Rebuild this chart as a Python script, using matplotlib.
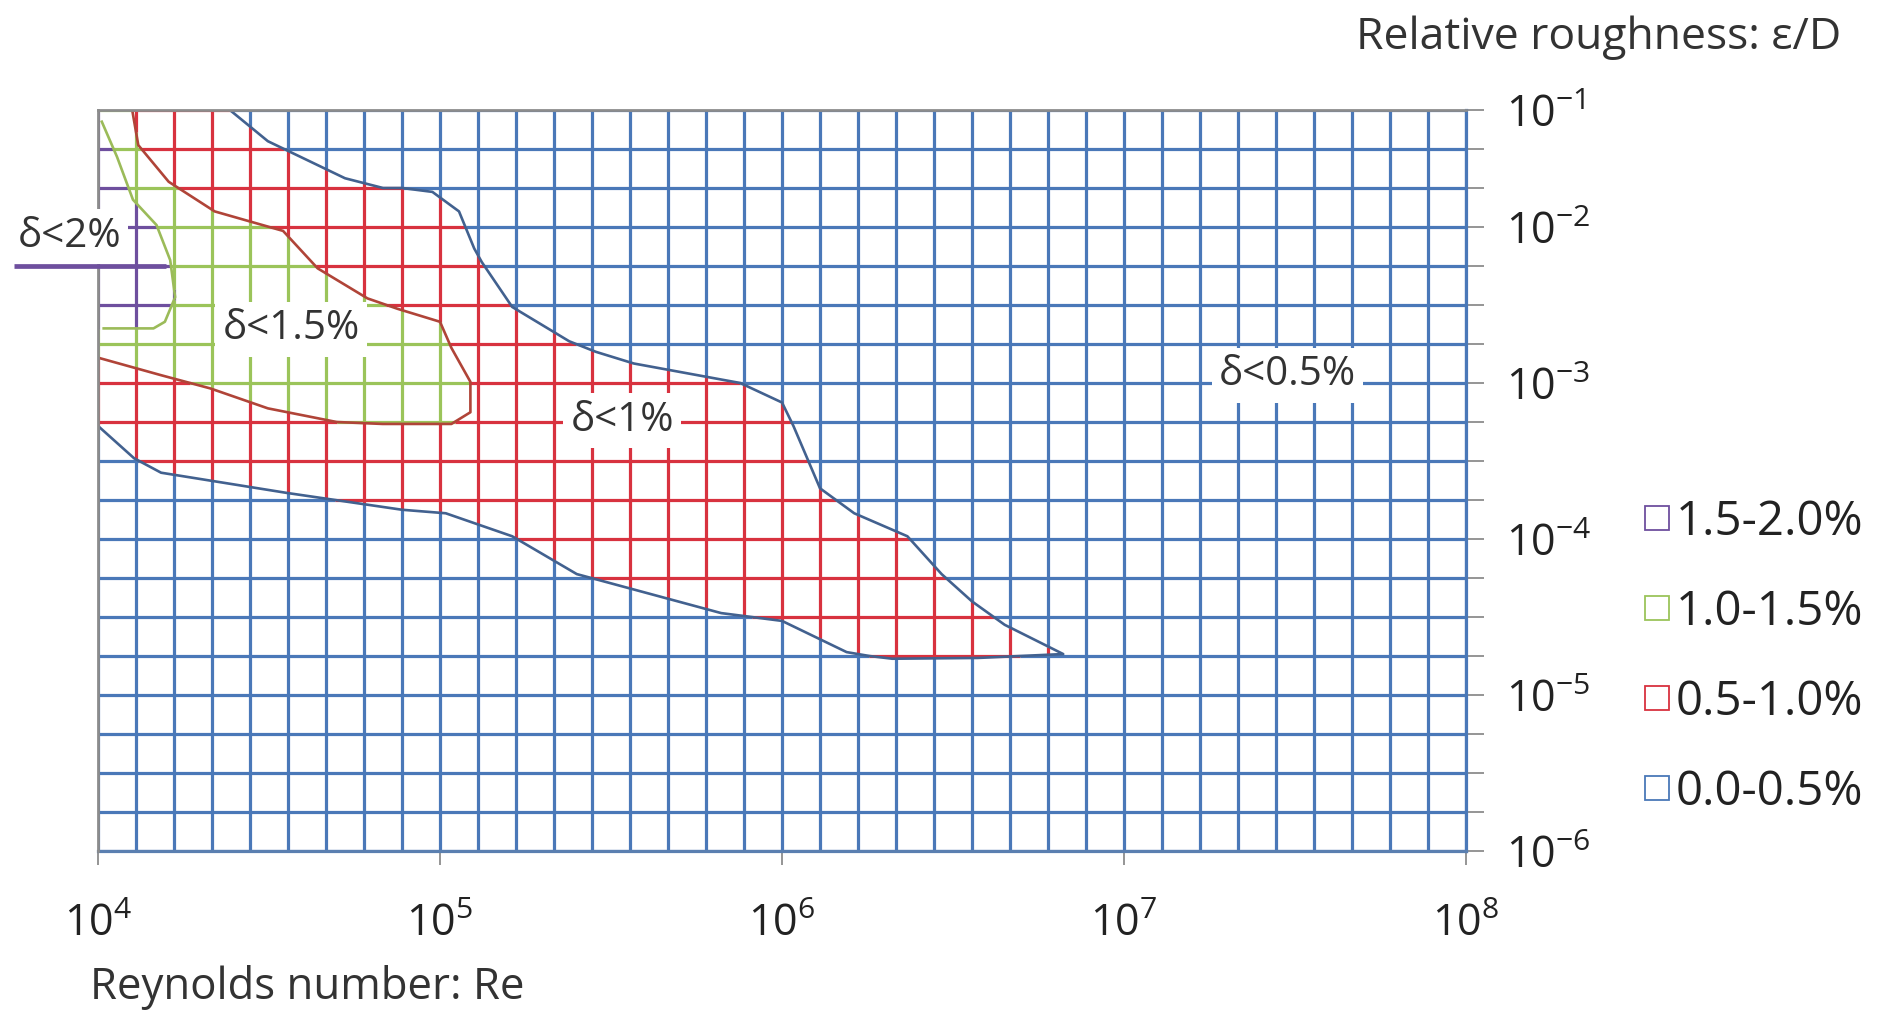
import numpy as np
import matplotlib
matplotlib.use("Agg")
import matplotlib.pyplot as plt
from matplotlib.path import Path
from matplotlib.collections import LineCollection
from matplotlib.lines import Line2D

plt.rcParams['font.family'] = ['Open Sans', 'DejaVu Sans']
plt.rcParams['mathtext.fontset'] = 'custom'
plt.rcParams['mathtext.rm'] = 'Open Sans'
plt.rcParams['mathtext.it'] = 'Open Sans'

# ---------------- data (category-index coordinates of the Excel surface grid) -------------
n_re = 37          # Reynolds-number categories (1e4 .. 1e8)
n_eps = 20         # relative-roughness categories (1e-6 .. 1e-1)
x_tick_idx = [0, 9, 18, 27, 36]
x_tick_exp = [4, 5, 6, 7, 8]
y_tick_idx = [19, 16, 12, 8, 4, 0]
y_tick_exp = [-1, -2, -3, -4, -5, -6]

# contour boundaries (x = Re index, y = eps index)
blue_x = [3.47, 4.47, 6.5, 7.5, 8.0, 8.8, 9.5, 9.9, 10.1, 10.9, 12.4, 13.1, 14.1, 16.9, 18.0, 18.3,
          19.0, 19.9, 21.3, 22.2, 23.0, 23.86, 25.4,
          23.15, 20.9, 20.3, 19.7, 18.0, 16.4, 12.6, 10.9, 9.15, 8.0, 4.98, 1.66, 0.95, 0.0]
blue_y = [19.0, 18.2, 17.25, 17.0, 17.0, 16.9, 16.4, 15.45, 15.1, 13.95, 13.07, 12.8, 12.5, 12.0, 11.5, 10.9,
          9.3, 8.66, 8.07, 7.1, 6.4, 5.8, 5.05,
          4.95, 4.93, 5.0, 5.1, 5.9, 6.1, 7.1, 8.07, 8.66, 8.75, 9.18, 9.7, 10.07, 10.9]
red_x = [0.9, 1.06, 1.86, 3.07, 4.87, 5.78, 7.09, 7.89, 9.0, 9.3, 9.8, 9.8, 9.3, 7.49, 6.28, 4.47,
         2.96, 1.66, 0.0]
red_y = [19.0, 18.1, 17.16, 16.4, 15.9, 14.94, 14.17, 13.9, 13.57, 12.9, 12.03, 11.25, 10.95, 10.95,
         11.0, 11.35, 11.86, 12.2, 12.65]
green_x = [0.0, 0.1, 0.5, 0.92, 1.54, 1.9, 2.03, 1.76, 1.46, 0.15, 0.0]
green_y = [19.0, 18.7, 17.8, 16.7, 16.05, 15.15, 14.2, 13.57, 13.4, 13.4, 13.4]

band_labels = ['1.5-2.0%', '1.0-1.5%', '0.5-1.0%', '0.0-0.5%']
band_colors = ['#6E4F9E', '#9BC45A', '#D8323F', '#4A78B8']
curve_colors = {'blue': '#42618F', 'red': '#B04438', 'green': '#9BBB59'}

region_text = ['δ<2%', 'δ<1.5%', 'δ<1%', 'δ<0.5%']
region_text_x = [-0.76, 5.08, 13.8, 31.3]
region_text_y = [15.75, 13.38, 11.03, 12.2]

# ---------------- figure ----------------
W, H = 1877, 1010
fig = plt.figure(figsize=(W / 100, H / 100), dpi=100)
ax = fig.add_axes([98 / W, 1 - 851 / H, (1466 - 98) / W, (851 - 110) / H])
ax.set_xlim(0, n_re - 1)
ax.set_ylim(0, n_eps - 1)


def closed_path(xs, ys):
    pts = list(zip(xs, ys))
    pts = [(xs[0], n_eps)] + pts + [(-1, ys[-1]), (-1, n_eps)]
    return Path(pts)


P_blue = closed_path(blue_x, blue_y)
P_red = closed_path(red_x, red_y)
P_green = closed_path(green_x, green_y)


def classify(pts):
    cls = np.full(len(pts), 3)
    cls[P_blue.contains_points(pts)] = 2
    cls[P_red.contains_points(pts)] = 1
    cls[P_green.contains_points(pts)] = 0
    return cls


segs, cols = [], []


def add_line(p0, p1, n=2400):
    t = np.linspace(0, 1, n + 1)
    pts = np.outer(1 - t, p0) + np.outer(t, p1)
    mids = 0.5 * (pts[:-1] + pts[1:])
    cls = classify(mids)
    start = 0
    for k in range(1, len(cls) + 1):
        if k == len(cls) or cls[k] != cls[start]:
            segs.append([pts[start], pts[k]])
            cols.append(band_colors[cls[start]])
            start = k


for j in range(n_eps):
    add_line(np.array([0.0, j]), np.array([n_re - 1.0, j]))
for i in range(n_re):
    add_line(np.array([float(i), 0.0]), np.array([float(i), n_eps - 1.0]), n=1400)

ax.add_collection(LineCollection(segs, colors=cols, linewidths=2.3, capstyle='butt', zorder=2))

ax.plot(blue_x, blue_y, color=curve_colors['blue'], lw=1.9, zorder=3)
ax.plot(red_x, red_y, color=curve_colors['red'], lw=1.9, zorder=3)
ax.plot(green_x[1:-1], green_y[1:-1], color=curve_colors['green'], lw=1.9, zorder=3)

# leader line for δ<2%
ax.plot([-2.2, 1.8], [15, 15], color=band_colors[0], lw=3.4, clip_on=False, zorder=8,
        solid_capstyle='butt')

# spines
for s in ['top', 'left']:
    ax.spines[s].set_color('#8C8C8C')
    ax.spines[s].set_linewidth(2.0)
    ax.spines[s].set_zorder(5)
ax.spines['bottom'].set_color('#5A7FB0')
ax.spines['bottom'].set_linewidth(2.3)
ax.spines['right'].set_color(band_colors[3])
ax.spines['right'].set_linewidth(2.3)

# ticks
ax.set_xticks(x_tick_idx)
ax.set_xticklabels([r'$\mathregular{10^{%d}}$' % e for e in x_tick_exp])
ax.tick_params(axis='x', direction='out', length=10, width=1.3, color='#8C8C8C',
               labelsize=31, pad=27, labelcolor='#222222')
ax.yaxis.tick_right()
ax.set_yticks(range(n_eps))
ylabels = [''] * n_eps
for idx, e in zip(y_tick_idx, y_tick_exp):
    ylabels[idx] = r'$\mathregular{10^{%d}}$' % e
ax.set_yticklabels(ylabels)
ax.tick_params(axis='y', direction='out', length=13, width=1.3, color='#8C8C8C',
               labelsize=31, pad=16, labelcolor='#222222')

for txt, tx, ty in zip(region_text, region_text_x, region_text_y):
    ax.text(tx, ty, txt, fontsize=29, color='#333333', ha='center', va='center', zorder=6,
            clip_on=False,
            bbox=dict(boxstyle='square,pad=0.18', facecolor='white', edgecolor='none'))

fig.text(90 / W, 1 - 988 / H, 'Reynolds number: Re', fontsize=31.5, color='#333333',
         ha='left', va='center')
fig.text(1356 / W, 1 - 38 / H, 'Relative roughness: ε/D', fontsize=32, color='#333333',
         ha='left', va='center')

handles = [Line2D([], [], marker='s', ls='none', markerfacecolor='white', markeredgecolor=c,
                  markersize=17, markeredgewidth=1.3) for c in band_colors]
fig.legend(handles, band_labels, loc='center left', bbox_to_anchor=(1640 / W, 1 - 657 / H),
           frameon=False, fontsize=34, handletextpad=0.05, labelspacing=0.9,
           handlelength=0.7, borderpad=0, borderaxespad=0, labelcolor='#222222')

fig.savefig('out.png', dpi=100)
